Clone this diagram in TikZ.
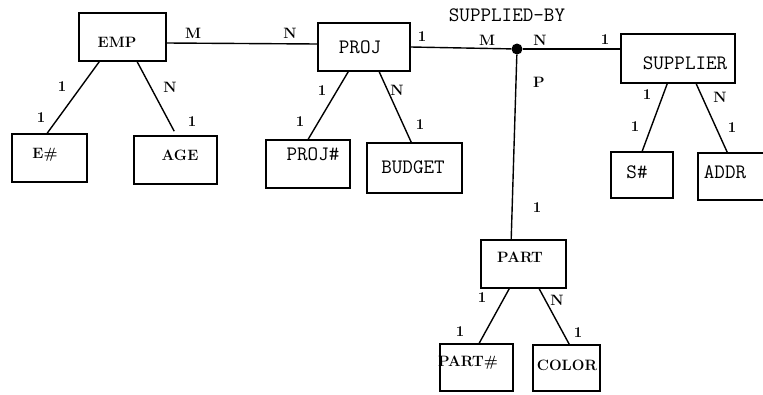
\documentclass[tikz,border=0pt]{standalone}
\usetikzlibrary{calc}
\tikzset{
  box/.style={draw, line width=1.6pt, inner sep=0pt, anchor=center},
  ttxt/.style={font=\fontsize{20.5}{22}\selectfont\ttfamily, inner sep=0pt},
  rtxt/.style={font=\fontsize{15}{17}\selectfont\bfseries, inner sep=0pt},
  card/.style={font=\fontsize{15}{17}\selectfont\bfseries, inner sep=0pt},
  conn/.style={line width=1.4pt},
}
\begin{document}
\begin{tikzpicture}[x=1pt,y=-1pt]
\useasboundingbox (0,0) rectangle (763,394);
% boxes
\node[box, minimum width=87pt, minimum height=48pt] (emp) at (122.5,37) {};
\node[box, minimum width=75pt, minimum height=48pt] (e) at (49.5,158) {};
\node[box, minimum width=83pt, minimum height=48pt] (age) at (175.5,160) {};
\node[box, minimum width=92pt, minimum height=48pt] (proj) at (364,47) {};
\node[box, minimum width=84pt, minimum height=48pt] (projn) at (308,164) {};
\node[box, minimum width=95pt, minimum height=50pt] (budget) at (414.5,168) {};
\node[box, minimum width=114pt, minimum height=49pt] (supplier) at (678,58.5) {};
\node[box, minimum width=62pt, minimum height=46pt] (s) at (642,175) {};
\node[box, minimum width=92pt, minimum height=47pt] (addr) at (744,176.5) {};
\node[box, minimum width=85pt, minimum height=48pt] (part) at (523.5,264) {};
\node[box, minimum width=73pt, minimum height=47pt] (partn) at (476.5,367.5) {};
\node[box, minimum width=67pt, minimum height=46pt] (color) at (566.5,368) {};
\node[circle, fill=black, inner sep=0pt, minimum size=11pt] (dot) at (517,49) {};
% box texts
\node[rtxt] (empt) at (117,42) {EMP};
\node[rtxt] (et) at (45,155) {E\#};
\node[rtxt] (aget) at (180,155) {AGE};
\node[ttxt] (projt) at (360,47) {PROJ};
\node[ttxt] (projnt) at (313,154) {PROJ\#};
\node[ttxt] (budgett) at (413,167) {BUDGET};
\node[ttxt] (suppliert) at (685,63) {SUPPLIER};
\node[ttxt] (st) at (637,172) {S\#};
\node[ttxt] (addrt) at (725,172) {ADDR};
\node[rtxt] (partt) at (520,257) {PART};
\node[rtxt] (partnt) at (468,363) {PART\#};
\node[rtxt] (colort) at (567,365) {COLOR};
\node[ttxt] (relname) at (507,15) {SUPPLIED-BY};
% connectors
\draw[conn] ([yshift=-6pt]emp.east) -- ([yshift=3pt]proj.west);
\draw[conn] (proj.east) -- (dot);
\draw[conn] (dot) -- ([yshift=9.5pt]supplier.west);
\draw[conn] (dot) -- ([xshift=31pt]part.north west);
\draw[conn] ([xshift=21pt]emp.south west) -- ([xshift=36pt]e.north west);
\draw[conn] ([xshift=59pt]emp.south west) -- ([xshift=41pt,yshift=4pt]age.north west);
\draw[conn] ([xshift=31pt]proj.south west) -- ([xshift=43pt]projn.north west);
\draw[conn] ([xshift=62pt]proj.south west) -- ([xshift=45pt]budget.north west);
\draw[conn] ([xshift=47pt]supplier.south west) -- ([xshift=32pt]s.north west);
\draw[conn] ([xshift=76pt]supplier.south west) -- ([xshift=30pt]addr.north west);
\draw[conn] ([xshift=29pt]part.south west) -- ([xshift=40pt]partn.north west);
\draw[conn] ([xshift=59pt]part.south west) -- ([xshift=37pt]color.north west);
% cardinality labels
\node[card] (c1) at (193,33) {M};
\node[card] (c2) at (290,33) {N};
\node[card] (c3) at (62,87) {1};
\node[card] (c4) at (41,118) {1};
\node[card] (c5) at (170,87) {N};
\node[card] (c6) at (192,122) {1};
\node[card] (c7) at (322,91) {1};
\node[card] (c8) at (300,122) {1};
\node[card] (c9) at (397,90) {N};
\node[card] (c10) at (420,125) {1};
\node[card] (c11) at (422,37) {1};
\node[card] (c12) at (487,40) {M};
\node[card] (c13) at (540,40) {N};
\node[card] (c14) at (605,40) {1};
\node[card] (c15) at (539,82) {P};
\node[card] (c16) at (537,208) {1};
\node[card] (c17) at (647,95) {1};
\node[card] (c18) at (635,127) {1};
\node[card] (c19) at (720,97) {N};
\node[card] (c20) at (732,128) {1};
\node[card] (c21) at (482,298) {1};
\node[card] (c22) at (460,332) {1};
\node[card] (c23) at (557,300) {N};
\node[card] (c24) at (578,333) {1};
\end{tikzpicture}
\end{document}
